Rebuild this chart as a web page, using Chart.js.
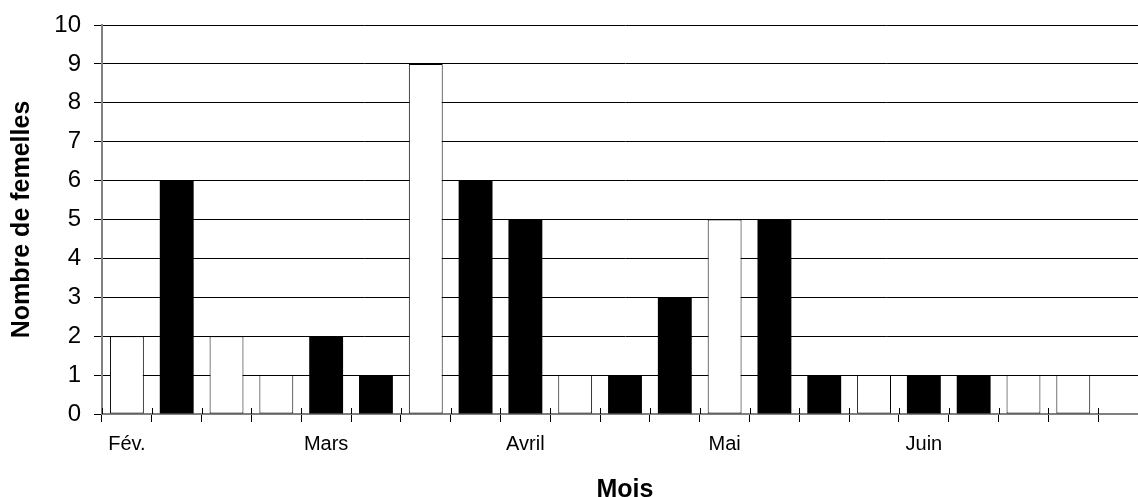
<!DOCTYPE html>
<html>
<head>
<meta charset="utf-8">
<script src="https://cdn.jsdelivr.net/npm/chart.js@4/dist/chart.umd.min.js"></script>
<style>
  html, body { margin: 0; padding: 0; background: #fff; overflow: hidden; }
  #wrap { width: 1160px; height: 510px; }
</style>
</head>
<body>
<div id="wrap"><canvas id="femChart"></canvas></div>
<script>
// the original figure is cut off on the right and at the bottom
const categories = ["Fév.", "", "", "", "Mars", "", "", "", "Avril", "", "", "", "Mai", "", "", "", "Juin", "", "", "", ""];
const whiteValues = [2, null, 2, 1, null, null, 9, null, null, 1, null, null, 5, null, null, 1, null, null, 1, 1, null];
const blackValues = [null, 6, null, null, 2, 1, null, 6, 5, null, 1, 3, null, 5, 1, null, 1, 1, null, null, null];
const yTicks = [0, 1, 2, 3, 4, 5, 6, 7, 8, 9, 10];

const FONT = "'Liberation Sans', Arial, sans-serif";

const xTitlePlugin = {
  id: "xTitle",
  afterDraw(chart) {
    const ctx = chart.ctx;
    const area = chart.chartArea;
    ctx.save();
    ctx.font = "bold 25px " + FONT;
    ctx.fillStyle = "#000";
    ctx.textAlign = "center";
    ctx.textBaseline = "alphabetic";
    ctx.fillText("Mois", (area.left + area.right) / 2, 497);
    ctx.restore();
  }
};

// small part of the x tick marks that pokes above the axis line
const crossTicksPlugin = {
  id: "crossTicks",
  afterDraw(chart) {
    const xs = chart.scales.x;
    const ctx = chart.ctx;
    const half = (xs.getPixelForValue(1) - xs.getPixelForValue(0)) / 2;
    ctx.save();
    ctx.strokeStyle = "#000";
    ctx.lineWidth = 1;
    ctx.beginPath();
    for (let i = 0; i <= categories.length; i++) {
      const x = Math.round(xs.getPixelForValue(i) - half) + 0.5;
      ctx.moveTo(x, xs.top - 6);
      ctx.lineTo(x, xs.top);
    }
    ctx.stroke();
    ctx.restore();
  }
};

document.addEventListener("DOMContentLoaded", function () {
  const ctx = document.getElementById("femChart").getContext("2d");
  new Chart(ctx, {
    type: "bar",
    data: {
      labels: categories,
      datasets: [{
        data: whiteValues,
        backgroundColor: "#ffffff",
        borderColor: "#000000",
        borderWidth: 1,
        borderSkipped: false,
        barPercentage: 0.68,
        categoryPercentage: 1
      }, {
        data: blackValues,
        backgroundColor: "#000000",
        borderColor: "#000000",
        borderWidth: 0,
        barPercentage: 0.68,
        categoryPercentage: 1
      }]
    },
    options: {
      responsive: true,
      maintainAspectRatio: false,
      animation: false,
      grouped: false,
      skipNull: true,
      layout: { padding: { top: 25, right: 12, left: 0, bottom: 0 } },
      plugins: { legend: { display: false }, tooltip: { enabled: false } },
      scales: {
        x: {
          offset: true,
          grid: {
            offset: true,
            drawOnChartArea: false,
            color: "#000",
            tickLength: 8
          },
          border: { color: "#808080", width: 2 },
          ticks: {
            autoSkip: false,
            maxRotation: 0,
            padding: 10,
            color: "#000",
            font: { family: FONT, size: 20 }
          },
          afterFit(scale) { scale.height = 96; }
        },
        y: {
          min: 0,
          max: 10,
          afterBuildTicks(scale) { scale.ticks = yTicks.map(v => ({ value: v })); },
          grid: { color: "#000", lineWidth: 1, tickLength: 8 },
          border: { color: "#808080", width: 2 },
          ticks: {
            padding: 13,
            color: "#000",
            font: { family: FONT, size: 24 }
          },
          title: {
            display: true,
            text: "Nombre de femelles",
            color: "#000",
            font: { family: FONT, size: 25, weight: "bold" },
            padding: { top: 7, bottom: 0 }
          },
          afterFit(scale) {
            scale.width = 102;
            scale.paddingTop = 0;
            scale.paddingBottom = 0;
          }
        }
      }
    },
    plugins: [xTitlePlugin, crossTicksPlugin]
  });
});
</script>
</body>
</html>
